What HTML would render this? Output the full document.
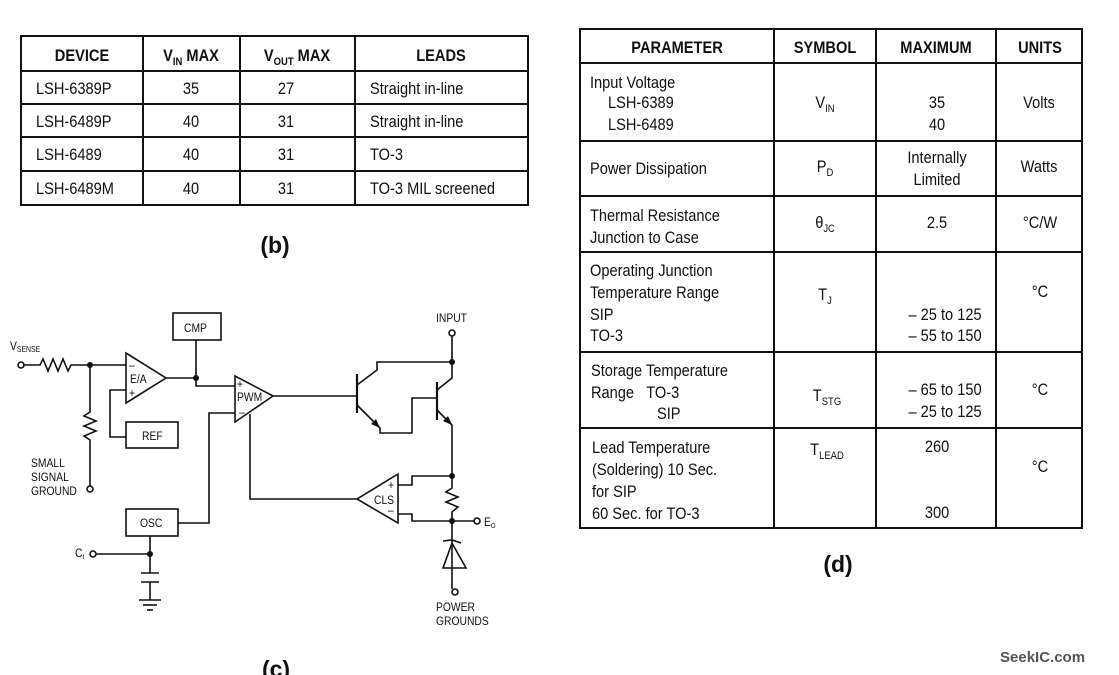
<!DOCTYPE html>
<html><head><meta charset="utf-8"><style>
html,body{margin:0;padding:0;background:#fff;width:1119px;height:675px;overflow:hidden}
svg{display:block}
text{font-family:"Liberation Sans Narrow","Liberation Sans",sans-serif;fill:#111;transform-box:fill-box;transform-origin:left center;transform:scaleX(.86)}
g.m text{transform-origin:center center}
.h{font-weight:bold;font-size:17px}
.t{font-size:17px}
.s{font-size:12px}
.n{transform:none}
</style></head><body>
<svg width="1119" height="675" viewBox="0 0 1119 675" xmlns="http://www.w3.org/2000/svg">
<!-- Table b -->
<g stroke="#111" stroke-width="2" fill="none">
<rect x="21" y="36" width="507" height="169"/>
<line x1="21" y1="71" x2="528" y2="71"/>
<line x1="21" y1="104" x2="528" y2="104"/>
<line x1="21" y1="137" x2="528" y2="137"/>
<line x1="21" y1="171" x2="528" y2="171"/>
<line x1="143" y1="36" x2="143" y2="205"/>
<line x1="240" y1="36" x2="240" y2="205"/>
<line x1="355" y1="36" x2="355" y2="205"/>
</g>
<g class="m" text-anchor="middle">
<text class="h" x="82" y="61">DEVICE</text>
<text class="h" x="191" y="61">V<tspan font-size="11" dy="4">IN</tspan><tspan dy="-4"> MAX</tspan></text>
<text class="h" x="297" y="61">V<tspan font-size="11" dy="4">OUT</tspan><tspan dy="-4"> MAX</tspan></text>
<text class="h" x="441" y="61">LEADS</text>
<text class="t" x="191" y="94">35</text><text class="t" x="286" y="94">27</text>
<text class="t" x="191" y="127">40</text><text class="t" x="286" y="127">31</text>
<text class="t" x="191" y="160">40</text><text class="t" x="286" y="160">31</text>
<text class="t" x="191" y="194">40</text><text class="t" x="286" y="194">31</text>
</g>
<text class="t" x="36" y="94">LSH-6389P</text><text class="t" x="370" y="94">Straight in-line</text>
<text class="t" x="36" y="127">LSH-6489P</text><text class="t" x="370" y="127">Straight in-line</text>
<text class="t" x="36" y="160">LSH-6489</text><text class="t" x="370" y="160">TO-3</text>
<text class="t" x="36" y="194">LSH-6489M</text><text class="t" x="370" y="194">TO-3 MIL screened</text>
<text class="n" x="275" y="253" text-anchor="middle" style="font-weight:bold;font-size:23px;font-family:'Liberation Sans',sans-serif">(b)</text>

<!-- Table d -->
<g stroke="#111" stroke-width="2" fill="none">
<rect x="580" y="29" width="502" height="499"/>
<line x1="580" y1="63" x2="1082" y2="63"/>
<line x1="580" y1="141" x2="1082" y2="141"/>
<line x1="580" y1="196" x2="1082" y2="196"/>
<line x1="580" y1="252" x2="1082" y2="252"/>
<line x1="580" y1="352" x2="1082" y2="352"/>
<line x1="580" y1="428" x2="1082" y2="428"/>
<line x1="774" y1="29" x2="774" y2="528"/>
<line x1="876" y1="29" x2="876" y2="528"/>
<line x1="996" y1="29" x2="996" y2="528"/>
</g>
<g class="m" text-anchor="middle">
<text class="h" x="677" y="53">PARAMETER</text>
<text class="h" x="825" y="53">SYMBOL</text>
<text class="h" x="936" y="53">MAXIMUM</text>
<text class="h" x="1040" y="53">UNITS</text>
<text class="t" x="825" y="108">V<tspan font-size="11" dy="4">IN</tspan></text>
<text class="t" x="937" y="108">35</text><text class="t" x="937" y="130">40</text>
<text class="t" x="1039" y="108">Volts</text>
<text class="t" x="825" y="172">P<tspan font-size="11" dy="4">D</tspan></text>
<text class="t" x="937" y="163">Internally</text><text class="t" x="937" y="185">Limited</text>
<text class="t" x="1039" y="172">Watts</text>
<text class="t" x="825" y="228">θ<tspan font-size="11" dy="4">JC</tspan></text>
<text class="t" x="937" y="228">2.5</text>
<text class="t" x="1040" y="228">°C/W</text>
<text class="t" x="825" y="300">T<tspan font-size="11" dy="4">J</tspan></text>
<text class="t" x="945" y="320">– 25 to 125</text><text class="t" x="945" y="341">– 55 to 150</text>
<text class="t" x="1040" y="297">°C</text>
<text class="t" x="827" y="401">T<tspan font-size="11" dy="4">STG</tspan></text>
<text class="t" x="945" y="395">– 65 to 150</text><text class="t" x="945" y="417">– 25 to 125</text>
<text class="t" x="1040" y="395">°C</text>
<text class="t" x="827" y="455">T<tspan font-size="11" dy="4">LEAD</tspan></text>
<text class="t" x="937" y="452">260</text><text class="t" x="937" y="518">300</text>
<text class="t" x="1040" y="472">°C</text>
</g>
<g>
<text class="t" x="590" y="88">Input Voltage</text>
<text class="t" x="608" y="108">LSH-6389</text>
<text class="t" x="608" y="130">LSH-6489</text>
<text class="t" x="590" y="174">Power Dissipation</text>
<text class="t" x="590" y="221">Thermal Resistance</text>
<text class="t" x="590" y="243">Junction to Case</text>
<text class="t" x="590" y="276">Operating Junction</text>
<text class="t" x="590" y="298">Temperature Range</text>
<text class="t" x="590" y="320">SIP</text>
<text class="t" x="590" y="341">TO-3</text>
<text class="t" x="591" y="376">Storage Temperature</text>
<text class="t" x="591" y="398">Range&#160;&#160;&#160;TO-3</text>
<text class="t" x="657" y="419">SIP</text>
<text class="t" x="592" y="453">Lead Temperature</text>
<text class="t" x="592" y="475">(Soldering) 10 Sec.</text>
<text class="t" x="592" y="497">for SIP</text>
<text class="t" x="592" y="519">60 Sec. for TO-3</text>
</g>
<text class="n" x="838" y="572" text-anchor="middle" style="font-weight:bold;font-size:23px;font-family:'Liberation Sans',sans-serif">(d)</text>

<!-- Circuit c -->
<g stroke="#111" stroke-width="1.6" fill="none">
<circle cx="21" cy="365" r="3"/>
<polyline points="24,365 40,365 43,359 48,371 53,359 58,371 63,359 68,371 71,365 126,365"/>
<polyline points="90,365 90,412 84,416 96,421 84,426 96,431 84,436 90,440 90,486"/>
<circle cx="90" cy="489" r="3"/>
<polygon points="126,353 166,378 126,403"/>
<polyline points="126,390 110,390 110,437 126,437"/>
<rect x="126" y="422" width="52" height="26"/>
<polyline points="166,378 196,378 196,340"/>
<rect x="173" y="313" width="48" height="27"/>
<polyline points="196,378 196,386 235,386"/>
<polygon points="235,376 273,396 235,422"/>
<polyline points="235,413 209,413 209,523 178,523"/>
<rect x="126" y="509" width="52" height="27"/>
<polyline points="150,536 150,573"/>
<line x1="96" y1="554" x2="150" y2="554"/>
<circle cx="93" cy="554" r="3"/>
<line x1="141" y1="573" x2="159" y2="573"/>
<line x1="141" y1="582" x2="159" y2="582"/>
<polyline points="150,582 150,600"/>
<line x1="139" y1="600" x2="161" y2="600"/>
<line x1="143" y1="605" x2="157" y2="605"/>
<line x1="147" y1="610" x2="153" y2="610"/>
<line x1="273" y1="396" x2="357" y2="396"/>
<line x1="357" y1="374" x2="357" y2="413" stroke-width="2.2"/>
<polyline points="357,385 377,370 377,362 452,362"/>
<polyline points="357,405 380,428 380,433 412,433 412,398 437,398"/>
<line x1="437" y1="382" x2="437" y2="420" stroke-width="2.2"/>
<polyline points="437,390 452,378 452,336"/>
<circle cx="452" cy="333" r="3"/>
<polyline points="437,410 452,425 452,488 446,492 458,497 446,502 458,507 452,512 452,521 474,521"/>
<circle cx="477" cy="521" r="3"/>
<polyline points="452,476 412,476 412,485 398,485"/>
<polyline points="398,514 412,514 412,521 452,521"/>
<polygon points="398,474 357,499 398,523"/>
<polyline points="357,499 250,499 250,414"/>
<polyline points="452,521 452,589"/>
<polygon points="452,543 443,568 466,568"/>
<polyline points="443,541 452,540 461,543"/>
<circle cx="455" cy="592" r="3"/>
</g>
<g fill="#111">
<circle cx="90" cy="365" r="3"/><circle cx="196" cy="378" r="3"/>
<circle cx="150" cy="554" r="3"/><circle cx="452" cy="362" r="3"/>
<circle cx="452" cy="476" r="3"/><circle cx="452" cy="521" r="3"/>
<polygon points="380,428 371,424 376,419"/>
<polygon points="452,425 443,421 448,416"/>
</g>
<g>
<text class="s" x="10" y="350">V<tspan font-size="8" dy="2">SENSE</tspan></text>
<text class="s" x="130" y="383">E/A</text>
<text class="s" x="129" y="369" font-size="9">–</text>
<text class="s" x="129" y="397" font-size="10">+</text>
<text class="s" x="184" y="332">CMP</text>
<text class="s" x="142" y="440">REF</text>
<text class="s" x="140" y="527">OSC</text>
<text class="s" x="237" y="401">PWM</text>
<text class="s" x="237" y="388" font-size="9">+</text>
<text class="s" x="239" y="416" font-size="9">–</text>
<text class="s" x="374" y="504">CLS</text>
<text class="s" x="388" y="489" font-size="9">+</text>
<text class="s" x="388" y="514" font-size="9">–</text>
<text class="s" x="31" y="467">SMALL</text>
<text class="s" x="31" y="481">SIGNAL</text>
<text class="s" x="31" y="495">GROUND</text>
<text class="s" x="75" y="557">C<tspan font-size="7" dy="2">t</tspan></text>
<text class="s" x="436" y="322">INPUT</text>
<text class="s" x="484" y="526">E<tspan font-size="7" dy="2">O</tspan></text>
<text class="s" x="436" y="611">POWER</text>
<text class="s" x="436" y="625">GROUNDS</text>
</g>
<text class="n" x="276" y="677" text-anchor="middle" style="font-weight:bold;font-size:23px;font-family:'Liberation Sans',sans-serif">(c)</text>
<text class="n" x="1000" y="662" style="font-weight:bold;font-size:15px;fill:#555;font-family:'Liberation Sans',sans-serif">SeekIC.com</text>
</svg>
</body></html>
